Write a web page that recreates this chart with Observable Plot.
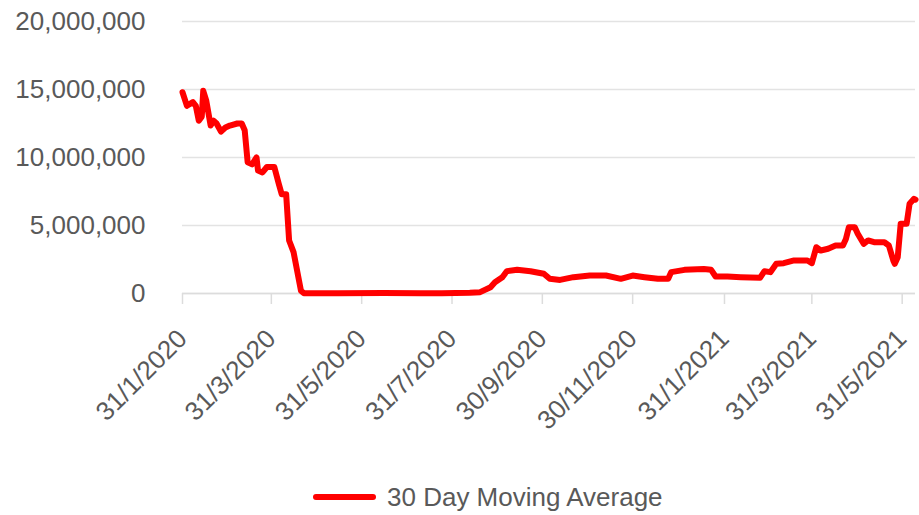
<!DOCTYPE html>
<html>
<head>
<meta charset="utf-8">
<script src="https://cdn.jsdelivr.net/npm/d3@7"></script>
<script src="https://cdn.jsdelivr.net/npm/@observablehq/plot@0.6"></script>
<style>
  html, body { margin: 0; padding: 0; background: #ffffff; }
  body { width: 919px; height: 515px; position: relative; overflow: hidden;
         font-family: "Liberation Sans", Arial, sans-serif; }
  #legend { position: absolute; left: 313px; top: 478px; height: 38px; display: flex; align-items: center;
            font-size: 26px; color: #595959; }
  #legend .sw { width: 63px; height: 6px; background: #ff0000; border-radius: 3px; margin-right: 11px; }
</style>
</head>
<body>
<div id="chart"></div>
<div id="legend"><div class="sw"></div><span id="legendText"></span></div>
<script>
const seriesName = "30 Day Moving Average";

const dates = [
  "2020-01-31","2020-02-03","2020-02-07","2020-02-09","2020-02-11","2020-02-13","2020-02-14","2020-02-16",
  "2020-02-19","2020-02-21","2020-02-23","2020-02-26","2020-02-29","2020-03-03","2020-03-08","2020-03-11",
  "2020-03-13","2020-03-15","2020-03-18","2020-03-21","2020-03-22","2020-03-25","2020-03-28","2020-04-02",
  "2020-04-05","2020-04-07","2020-04-10","2020-04-12","2020-04-15","2020-04-20","2020-04-22","2020-05-15",
  "2020-06-15","2020-07-10","2020-07-24","2020-08-12","2020-08-19","2020-08-26","2020-08-29","2020-09-03",
  "2020-09-06","2020-09-13","2020-09-22","2020-10-01","2020-10-05","2020-10-12","2020-10-21","2020-11-01",
  "2020-11-12","2020-11-22","2020-11-30","2020-12-08","2020-12-17","2020-12-24","2020-12-26","2021-01-04",
  "2021-01-17","2021-01-22","2021-01-25","2021-02-02","2021-02-11","2021-02-24","2021-02-27","2021-03-03",
  "2021-03-07","2021-03-12","2021-03-19","2021-03-28","2021-03-31","2021-04-03","2021-04-06","2021-04-11",
  "2021-04-16","2021-04-21","2021-04-23","2021-04-25","2021-04-29","2021-05-01","2021-05-05","2021-05-08",
  "2021-05-12","2021-05-19","2021-05-22","2021-05-25","2021-05-26","2021-05-28","2021-05-30","2021-06-03",
  "2021-06-05","2021-06-08","2021-06-09"
];

const values = [
  14800000,13800000,14070000,13800000,12700000,13000000,14900000,14200000,
  12350000,12700000,12500000,11900000,12200000,12350000,12500000,12500000,
  12000000,9650000,9500000,10000000,9040000,8900000,9300000,9300000,
  8070000,7300000,7300000,3900000,3040000,200000,10000,20000,
  30000,20000,20000,60000,100000,460000,830000,1200000,
  1640000,1740000,1640000,1450000,1080000,1000000,1200000,1320000,
  1320000,1080000,1320000,1200000,1080000,1080000,1570000,1740000,
  1800000,1740000,1250000,1250000,1200000,1150000,1640000,1570000,
  2180000,2230000,2430000,2430000,2230000,3400000,3160000,3290000,
  3530000,3530000,4000000,4870000,4870000,4400000,3650000,3900000,
  3770000,3770000,3530000,2430000,2180000,2670000,5120000,5120000,
  6600000,6960000,6900000
];

const yTicks = [0, 5000000, 10000000, 15000000, 20000000];
const xTickDates = ["2020-01-31","2020-03-31","2020-05-31","2020-07-31","2020-09-30","2020-11-30",
                    "2021-01-31","2021-03-31","2021-05-31"];
const xTickLabels = ["31/1/2020","31/3/2020","31/5/2020","31/7/2020","30/9/2020","30/11/2020",
                     "31/1/2021","31/3/2021","31/5/2021"];

const data = dates.map((d, i) => ({date: new Date(d), value: values[i]}));
const tickDates = xTickDates.map(d => new Date(d));
const labelMap = new Map(tickDates.map((d, i) => [+d, xTickLabels[i]]));

const font = '"Liberation Sans", Arial, sans-serif';

const chart = Plot.plot({
  width: 919,
  height: 465,
  marginLeft: 182,
  marginRight: 4,
  marginTop: 21,
  marginBottom: 172,
  style: {fontFamily: font, fontSize: "26px", color: "#595959", background: "#ffffff"},
  x: {type: "utc", domain: [new Date("2020-01-31"), new Date("2021-06-09")], label: null},
  y: {domain: [0, 20000000], label: null},
  marks: [
    Plot.gridY(yTicks, {stroke: "#e3e3e3", strokeOpacity: 1, strokeWidth: 1.5}),
    Plot.axisY(yTicks, {tickSize: 0, tickPadding: 37, tickFormat: d3.format(","), fill: "#595959", fontSize: 26, label: null}),
    Plot.ruleY([0], {stroke: "#dcdcdc", strokeWidth: 1.5}),
    Plot.axisX(tickDates, {tickSize: 11, stroke: "#dcdcdc", strokeOpacity: 1, strokeWidth: 1.5,
      tickRotate: -45, tickPadding: 30, fill: "#595959", fontSize: 26, label: null,
      tickFormat: d => labelMap.get(+d)}),
    Plot.line(data, {x: "date", y: "value", stroke: "#ff0000", strokeWidth: 6, strokeLinejoin: "round", strokeLinecap: "round"})
  ]
});
document.getElementById("chart").appendChild(chart);
document.getElementById("legendText").textContent = seriesName;
</script>
</body>
</html>
